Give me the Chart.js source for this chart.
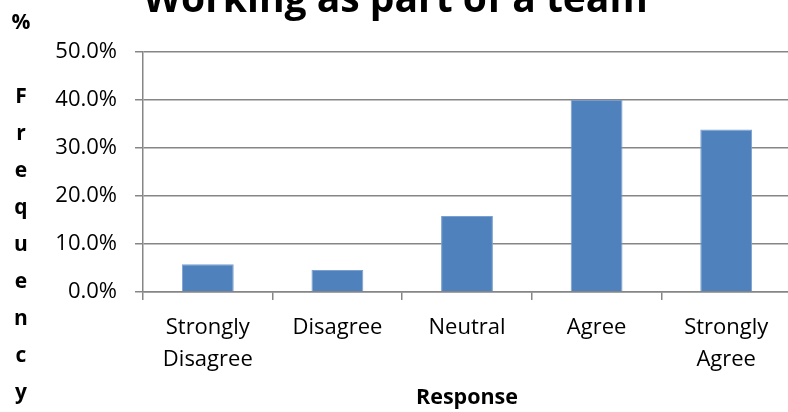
<!DOCTYPE html>
<html>
<head>
<meta charset="utf-8">
<script src="https://cdn.jsdelivr.net/npm/chart.js@4"></script>
<style>
  html, body { margin: 0; padding: 0; background: #fff; overflow: hidden; width: 788px; height: 412px; }
  #wrap { position: absolute; left: 0; top: -26px; width: 791px; height: 438px; }
</style>
</head>
<body>
<div id="wrap"><canvas id="c"></canvas></div>
<script>
const categories = [["Strongly", "Disagree"], "Disagree", "Neutral", "Agree", ["Strongly", "Agree"]];
const frequencyPct = [5.8, 4.6, 15.8, 40.0, 33.8];
const yTicks = [0, 10, 20, 30, 40, 50];
const chartTitle = "Working as part of a team";
const xAxisTitle = "Response";
const yAxisTitleLines = ["%", "", "F", "r", "e", "q", "u", "e", "n", "c", "y"];

const FONT = "'Open Sans', sans-serif";
const GRID = "#868686";

const stackedYTitle = {
  id: "stackedYTitle",
  afterDraw(chart) {
    const ctx = chart.ctx;
    ctx.save();
    ctx.font = "bold 21px " + FONT;
    ctx.fillStyle = "#000";
    ctx.textAlign = "center";
    ctx.textBaseline = "alphabetic";
    yAxisTitleLines.forEach((ch, i) => {
      if (ch) ctx.fillText(ch, 21, 26 + 29 + i * 37);
    });
    ctx.restore();
  }
};

new Chart(document.getElementById("c"), {
  type: "bar",
  data: {
    labels: categories,
    datasets: [{
      data: frequencyPct,
      backgroundColor: "#4f81bd",
      borderColor: "#7b9fcf",
      borderWidth: 1,
      barPercentage: 0.4,
      categoryPercentage: 1.0
    }]
  },
  options: {
    responsive: true,
    maintainAspectRatio: false,
    animation: false,
    layout: { padding: { left: 0, right: 0, top: 0, bottom: 0 } },
    plugins: {
      legend: { display: false },
      tooltip: { enabled: false },
      title: {
        display: true,
        text: chartTitle,
        color: "#000",
        font: { family: FONT, size: 39, weight: "bold", lineHeight: 1.2 },
        padding: { top: 3, bottom: 28 }
      }
    },
    scales: {
      x: {
        afterFit(s) { s.height = 120; },
        grid: {
          display: true,
          drawOnChartArea: false,
          drawTicks: true,
          tickLength: 8,
          color: GRID,
          lineWidth: 1.5,
          offset: true
        },
        border: { display: true, color: GRID, width: 1.5 },
        ticks: {
          color: "#000",
          font: { family: FONT, size: 22, lineHeight: 1.45 },
          padding: 12,
          maxRotation: 0,
          autoSkip: false
        },
        title: {
          display: true,
          text: xAxisTitle,
          color: "#000",
          font: { family: FONT, size: 21.5, weight: "bold", lineHeight: 1.2 },
          padding: { top: 0, bottom: 1 }
        }
      },
      y: {
        min: 0,
        max: 50,
        afterFit(s) { s.width = 143; },
        afterBuildTicks(s) { s.ticks = yTicks.map(v => ({ value: v })); },
        grid: {
          color: GRID,
          lineWidth: 1.5,
          drawTicks: true,
          tickLength: 8
        },
        border: { display: true, color: GRID, width: 1.5 },
        ticks: {
          color: "#000",
          font: { family: FONT, size: 22 },
          padding: 18,
          callback: v => v.toFixed(1) + "%"
        }
      }
    }
  },
  plugins: [stackedYTitle]
});
</script>
</body>
</html>
